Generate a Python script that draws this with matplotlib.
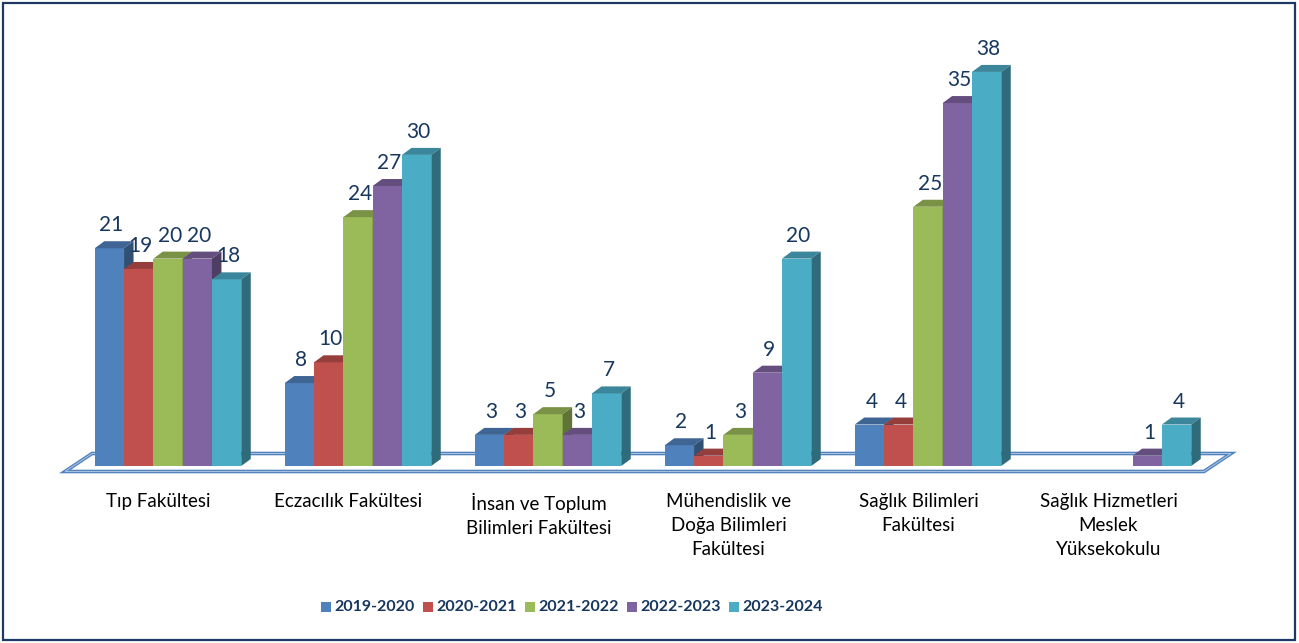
import numpy as np
import matplotlib.pyplot as plt
from matplotlib.patches import Polygon, Rectangle

categories = ['Tıp Fakültesi', 'Eczacılık Fakültesi', 'İnsan ve Toplum\nBilimleri Fakültesi',
              'Mühendislik ve\nDoğa Bilimleri\nFakültesi', 'Sağlık Bilimleri\nFakültesi',
              'Sağlık Hizmetleri\nMeslek\nYüksekokulu']
years = ['2019-2020', '2020-2021', '2021-2022', '2022-2023', '2023-2024']
v2019 = [21, 8, 3, 2, 4, np.nan]
v2020 = [19, 10, 3, 1, 4, np.nan]
v2021 = [20, 24, 5, 3, 25, np.nan]
v2022 = [20, 27, 3, 9, 35, 1]
v2023 = [18, 30, 7, 20, 38, 4]
series = [v2019, v2020, v2021, v2022, v2023]

colors = ['#4F81BD', '#C0504D', '#9BBB59', '#8064A2', '#4BACC6']
navy = '#17375E'

W, H = 1299, 643
fig = plt.figure(figsize=(W / 100, H / 100), dpi=100)
plt.rcParams['font.family'] = ['Lato', 'DejaVu Sans']

# axes spans the whole figure; data units: 1 category = 190 px, 1 value = 10.37 px
px_x = 190.0
px_y = 10.37
x0_px = 168.0
y0_px = 466.0
ax = fig.add_axes([0, 0, 1, 1])
ax.set_xlim(-x0_px / px_x, (W - x0_px) / px_x)
ax.set_ylim(-(H - y0_px) / px_y, y0_px / px_y)
ax.axis('off')

bw = 29.3 / px_x
ddx = 9.5 / px_x
ddy = 7.0 / px_y


def shade(c, f):
    r, g, b = plt.matplotlib.colors.to_rgb(c)
    return (r * f, g * f, b * f)


# floor (3d-style parallelogram)
fdx = 27 / px_x
fdy = 18 / px_y
fy = -5.5 / px_y
fl, fr = (65 - x0_px) / px_x, (1204 - x0_px) / px_x
floor = Polygon([(fl, fy), (fr, fy), (fr + fdx, fy + fdy), (fl + fdx, fy + fdy)],
                closed=True, facecolor='white', edgecolor='#4F81BD', lw=2.6, zorder=1)
ax.add_patch(floor)
floor2 = Polygon(floor.get_xy(), closed=True, facecolor='none', edgecolor='#A7C0DE', lw=0.8, zorder=1.1)
ax.add_patch(floor2)

z = 2
for i in range(len(categories)):
    for k, vals in enumerate(series):
        v = vals[i]
        if np.isnan(v):
            continue
        xl = i + (k - 2.5) * bw
        xr = xl + bw
        c = colors[k]
        ax.bar(xl, v, width=bw, align='edge', color=c, lw=0, zorder=z)
        top = Polygon([(xl, v), (xr, v), (xr + ddx, v + ddy), (xl + ddx, v + ddy)],
                      closed=True, facecolor=shade(c, 0.78), lw=0, zorder=z)
        side = Polygon([(xr, 0), (xr + ddx, ddy), (xr + ddx, v + ddy), (xr, v)],
                       closed=True, facecolor=shade(c, 0.62), lw=0, zorder=z)
        ax.add_patch(top)
        ax.add_patch(side)
        ax.annotate(str(int(v)), (xl + bw / 2, v), xytext=(2, 17), textcoords='offset pixels',
                    ha='center', va='baseline', fontsize=15, color=navy, zorder=50)
        z += 1

for i, cat in enumerate(categories):
    ax.text(i - 0.05, -2.6, cat, ha='center', va='top', fontsize=13.5, color='black',
            linespacing=1.5)

# legend
for k, name in enumerate(years):
    lx = 321 + k * 102
    fig.patches.append(Rectangle((lx / W, 1 - 612 / H), 10 / W, 10 / H, transform=fig.transFigure,
                                 facecolor=colors[k], lw=0))
    fig.text((lx + 13) / W, 1 - 607 / H, name, ha='left', va='center', fontsize=11.5,
             fontweight='bold', color=navy)

fig.patches.append(Rectangle((3 / W, 3 / H), 1292 / W, 637 / H, transform=fig.transFigure,
                             facecolor='none', edgecolor='#1F3864', lw=1.6))

fig.savefig('out.png', dpi=100)
